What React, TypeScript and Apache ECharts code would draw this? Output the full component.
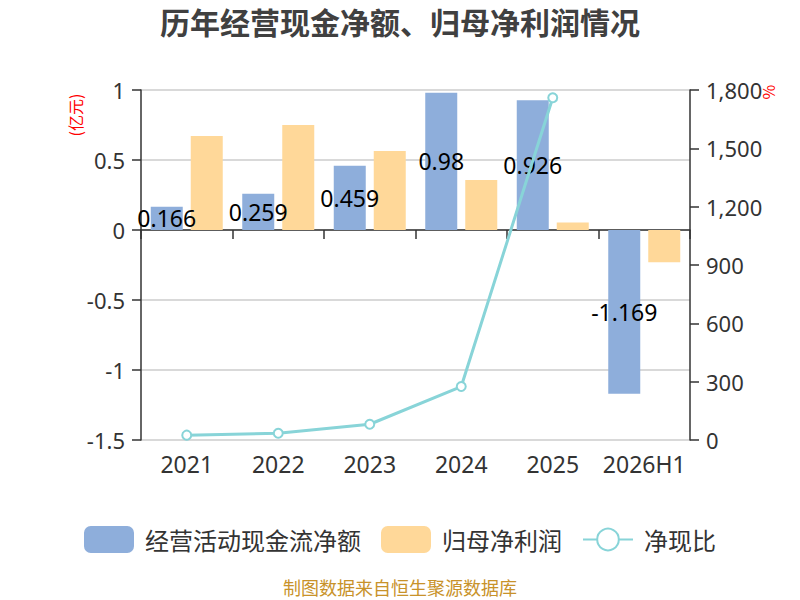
import React, { useEffect, useRef } from "react";
import * as echarts from "echarts";

const categories = ["2021", "2022", "2023", "2024", "2025", "2026H1"];
const cashFlow = [0.166, 0.259, 0.459, 0.98, 0.926, -1.169];
const netProfit = [0.671, 0.75, 0.564, 0.357, 0.053, -0.23];
const ratio: (number | string)[] = [25, 35, 81, 275, 1760, "-"];

const FONT = "Noto Sans CJK SC";
const NUMFONT = "'Noto Sans', 'Noto Sans CJK SC'";

export default function App() {
  const ref = useRef<HTMLDivElement>(null);
  useEffect(() => {
    document.body.style.margin = "0";
    const chart = echarts.init(ref.current!, null, { renderer: "svg" });
    chart.setOption({
      animation: false,
      textStyle: { fontFamily: FONT },
      title: {
        text: "历年经营现金净额、归母净利润情况",
        left: "center",
        top: 1,
        textStyle: { fontSize: 30, fontWeight: "bold", color: "#404040", fontFamily: FONT },
      },
      legend: {
        top: 521,
        left: "center",
        itemWidth: 50,
        itemHeight: 27,
        itemGap: 20,
        textStyle: { fontSize: 24, color: "#333", fontFamily: FONT, padding: [0, 0, 0, 6] },
        data: [
          { name: "经营活动现金流净额", icon: "roundRect" },
          { name: "归母净利润", icon: "roundRect" },
          { name: "净现比" },
        ],
      },
      grid: { left: 141, right: 110, top: 90, bottom: 160 },
      graphic: [
        {
          type: "text",
          x: 75,
          y: 115,
          rotation: Math.PI / 2,
          style: {
            text: "(亿元)",
            fill: "#ff0000",
            fontSize: 16,
            fontFamily: FONT,
            align: "center",
            verticalAlign: "middle",
          },
        },
        {
          type: "text",
          x: 768,
          y: 92,
          rotation: Math.PI / 2,
          style: {
            text: "%",
            fill: "#ff0000",
            fontSize: 16,
            fontFamily: FONT,
            align: "center",
            verticalAlign: "middle",
          },
        },
        {
          type: "text",
          x: 400,
          y: 587,
          style: {
            text: "制图数据来自恒生聚源数据库",
            fill: "#c8922a",
            fontSize: 18,
            fontFamily: FONT,
            align: "center",
            verticalAlign: "middle",
          },
        },
      ],
      xAxis: [
        {
          type: "category",
          data: categories,
          position: "bottom",
          axisLine: { show: true, onZero: true, lineStyle: { color: "#333", width: 1.5 } },
          axisTick: { show: true, length: 9, lineStyle: { color: "#333", width: 1.5 } },
          axisLabel: { show: false },
        },
        {
          type: "category",
          data: categories,
          position: "bottom",
          axisLine: { show: false, onZero: false },
          axisTick: { show: false },
          axisLabel: { show: true, interval: 0, fontSize: 23, color: "#333", margin: 12, fontFamily: NUMFONT },
        },
      ],
      yAxis: [
        {
          type: "value",
          min: -1.5,
          max: 1,
          interval: 0.5,
          axisLine: { show: true, lineStyle: { color: "#333", width: 1.5 } },
          axisTick: { show: true, length: 9, lineStyle: { color: "#333", width: 1.5 } },
          axisLabel: { fontSize: 22, color: "#333", margin: 16, fontFamily: NUMFONT },
          splitLine: { show: true, lineStyle: { color: "#cccccc", width: 1.5 } },
        },
        {
          type: "value",
          min: 0,
          max: 1800,
          interval: 300,
          position: "right",
          axisLine: { show: true, lineStyle: { color: "#333", width: 1.5 } },
          axisTick: { show: true, length: 9, lineStyle: { color: "#333", width: 1.5 } },
          axisLabel: {
            fontSize: 22,
            color: "#333",
            margin: 16,
            fontFamily: NUMFONT,
            formatter: (v: number) => v.toLocaleString("en-US"),
          },
          splitLine: { show: false },
        },
      ],
      series: [
        {
          name: "经营活动现金流净额",
          type: "bar",
          xAxisIndex: 0,
          yAxisIndex: 0,
          data: cashFlow,
          barWidth: 32,
          barGap: "25%",
          itemStyle: { color: "#8eaedb" },
          label: {
            show: true,
            position: "inside",
            color: "#000",
            fontSize: 23,
            fontFamily: NUMFONT,
          },
        },
        {
          name: "归母净利润",
          type: "bar",
          xAxisIndex: 0,
          yAxisIndex: 0,
          data: netProfit,
          barWidth: 32,
          barGap: "25%",
          itemStyle: { color: "#ffd899" },
        },
        {
          name: "净现比",
          type: "line",
          xAxisIndex: 0,
          yAxisIndex: 1,
          data: ratio,
          symbol: "emptyCircle",
          symbolSize: 9,
          lineStyle: { color: "#88d4d8", width: 3 },
          itemStyle: { color: "#88d4d8", borderWidth: 2 },
          z: 5,
        },
      ],
    });
    return () => chart.dispose();
  }, []);
  return <div ref={ref} style={{ width: 800, height: 600 }} />;
}
